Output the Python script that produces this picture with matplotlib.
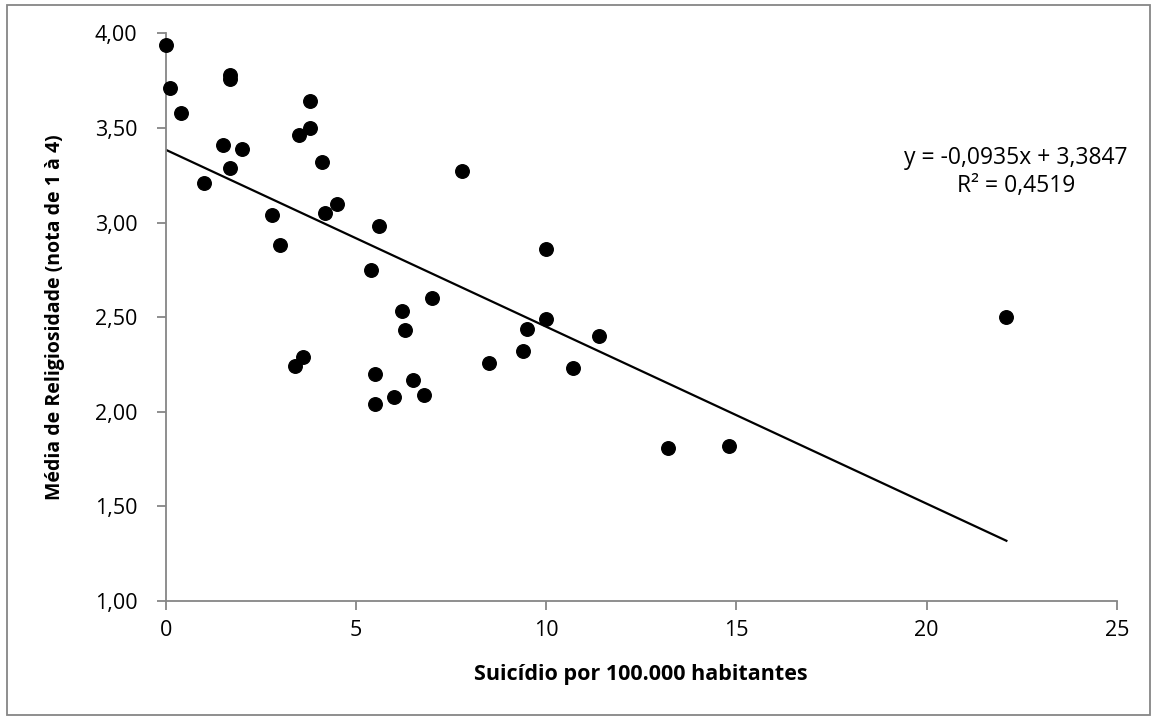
import matplotlib.pyplot as plt
from matplotlib.patches import Rectangle
from matplotlib.ticker import FuncFormatter, MultipleLocator

plt.rcParams["font.family"] = ["Open Sans", "DejaVu Sans"]

# suicides per 100k inhabitants vs. mean religiosity score (1 to 4)
suicide = [0.0, 0.1, 0.4, 1.0, 1.5, 1.7, 1.7, 1.7, 2.0, 2.8, 3.0,
           3.4, 3.5, 3.6, 3.8, 3.8, 4.1, 4.2, 4.5, 5.4, 5.5, 5.5,
           5.6, 6.0, 6.2, 6.3, 6.5, 6.8, 7.0, 7.8, 8.5, 9.4, 9.5,
           10.0, 10.0, 10.7, 11.4, 13.2, 14.8, 22.1]
religiosity = [3.94, 3.71, 3.58, 3.21, 3.41, 3.78, 3.76, 3.29, 3.39, 3.04, 2.88,
               2.24, 3.46, 2.29, 3.64, 3.50, 3.32, 3.05, 3.10, 2.75, 2.20, 2.04,
               2.98, 2.08, 2.53, 2.43, 2.17, 2.09, 2.60, 3.27, 2.26, 2.32, 2.44,
               2.86, 2.49, 2.23, 2.40, 1.81, 1.82, 2.50]

# linear trendline as reported on the chart
SLOPE = -0.0935
INTERCEPT = 3.3847
R2 = 0.4519

W, H = 1155, 720
fig = plt.figure(figsize=(W / 100, H / 100), dpi=100)
ax = fig.add_axes([165.7 / W, 1 - 601 / H, 951 / W, 567.7 / H])

ax.scatter(suicide, religiosity, s=95, color="black", zorder=3, clip_on=False)

x0, x1 = min(suicide), max(suicide)
ax.plot([x0, x1], [SLOPE * x0 + INTERCEPT, SLOPE * x1 + INTERCEPT],
        color="black", lw=1.6, zorder=2)

ax.set_xlim(0, 25)
ax.set_ylim(1, 4)
ax.xaxis.set_major_locator(MultipleLocator(5))
ax.yaxis.set_major_locator(MultipleLocator(0.5))
ax.yaxis.set_major_formatter(FuncFormatter(lambda v, _: f"{v:.2f}".replace(".", ",")))

for side in ("top", "right"):
    ax.spines[side].set_visible(False)
for side in ("left", "bottom"):
    ax.spines[side].set_color("#868686")
    ax.spines[side].set_linewidth(1.3)
ax.tick_params(direction="out", length=6.5, width=1.3, color="#868686",
               labelsize=15.5, labelcolor="black")
ax.tick_params(axis="x", pad=7)
ax.tick_params(axis="y", pad=14)

ax.set_xlabel("Suicídio por 100.000 habitantes", fontsize=15.5, fontweight="bold", labelpad=17)
ax.set_ylabel("Média de Religiosidade (nota de 1 à 4)", fontsize=14, fontweight="bold", labelpad=21)

eq = f"y = {SLOPE:.4f}x + {INTERCEPT:.4f}".replace(".", ",")
r2 = f"R² = {R2:.4f}".replace(".", ",")
fig.text(1016 / W, 1 - 172 / H, eq + "\n" + r2, fontsize=16.5, ha="center", va="center",
         multialignment="center", linespacing=1.2)

fig.patches.append(Rectangle((7 / W, 5 / H), 1143 / W, 710 / H, transform=fig.transFigure,
                             fill=False, edgecolor="#868686", lw=1.3))

fig.savefig("out.png", dpi=100)
